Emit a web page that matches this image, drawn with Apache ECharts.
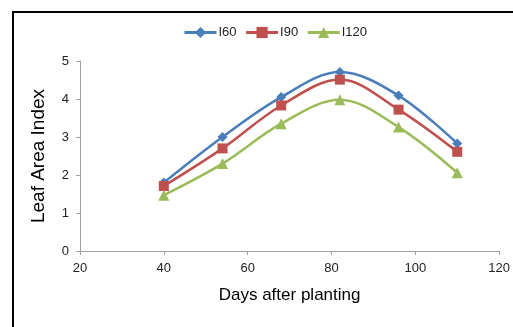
<!DOCTYPE html>
<html>
<head>
<meta charset="utf-8">
<script src="https://cdn.jsdelivr.net/npm/echarts@6/dist/echarts.min.js"></script>
<style>html,body{margin:0;padding:0;background:#fff}#c{width:513px;height:327px}</style>
</head>
<body>
<div id="c"></div>
<script>
const days = [40, 54, 68, 82, 96, 110];
const i60 = [1.8, 3.0, 4.05, 4.71, 4.09, 2.83];
const i90 = [1.71, 2.7, 3.83, 4.51, 3.72, 2.61];
const i120 = [1.47, 2.3, 3.35, 3.98, 3.26, 2.06];
const seriesNames = ['I60', 'I90', 'I120'];

const pair = (ys) => days.map((d, i) => [d, ys[i]]);
const chart = echarts.init(document.getElementById('c'), null, {renderer: 'canvas'});
const font = 'Liberation Sans, Arial, sans-serif';
const mk = (name, data, color, symbol, size) => ({
  name, type: 'line', data: pair(data), smooth: 0.35,
  symbol, symbolSize: size,
  lineStyle: {color, width: 2.5},
  itemStyle: {color},
  z: 3
});
chart.setOption({
  animation: false,
  graphic: [{
    type: 'rect', shape: {x: 13, y: 12, width: 520, height: 340},
    style: {fill: 'none', stroke: '#000', lineWidth: 2}, z: -1
  }],
  legend: {
    top: 21, left: 178, itemWidth: 32, itemHeight: 14, itemGap: 8,
    lineStyle: {width: 3},
    textStyle: {fontFamily: font, fontSize: 13, color: '#222', padding: [0, 0, 0, -3]},
    data: seriesNames
  },
  grid: {left: 80, right: 13, top: 61, bottom: 76},
  xAxis: {
    type: 'value', min: 20, max: 120, interval: 20,
    name: 'Days after planting', nameLocation: 'middle', nameGap: 36,
    nameTextStyle: {fontFamily: font, fontSize: 17, color: '#000'},
    axisLine: {lineStyle: {color: '#a0a0a0', width: 1}},
    axisTick: {show: true, length: 4, lineStyle: {color: '#a0a0a0'}},
    axisLabel: {fontFamily: font, fontSize: 13, color: '#222', margin: 11},
    splitLine: {show: false}
  },
  yAxis: {
    type: 'value', min: 0, max: 5, interval: 1,
    name: 'Leaf Area Index', nameLocation: 'middle', nameGap: 32,
    nameTextStyle: {fontFamily: font, fontSize: 19, color: '#000'},
    axisLine: {show: true, lineStyle: {color: '#a0a0a0', width: 1}},
    axisTick: {show: true, length: 4, lineStyle: {color: '#a0a0a0'}},
    axisLabel: {fontFamily: font, fontSize: 13, color: '#222', margin: 11},
    splitLine: {show: false}
  },
  series: [
    mk('I60', i60, '#4A7EBB', 'diamond', 10),
    mk('I90', i90, '#C0504D', 'rect', 10),
    mk('I120', i120, '#9BBB59', 'triangle', 11)
  ]
});
</script>
</body>
</html>
